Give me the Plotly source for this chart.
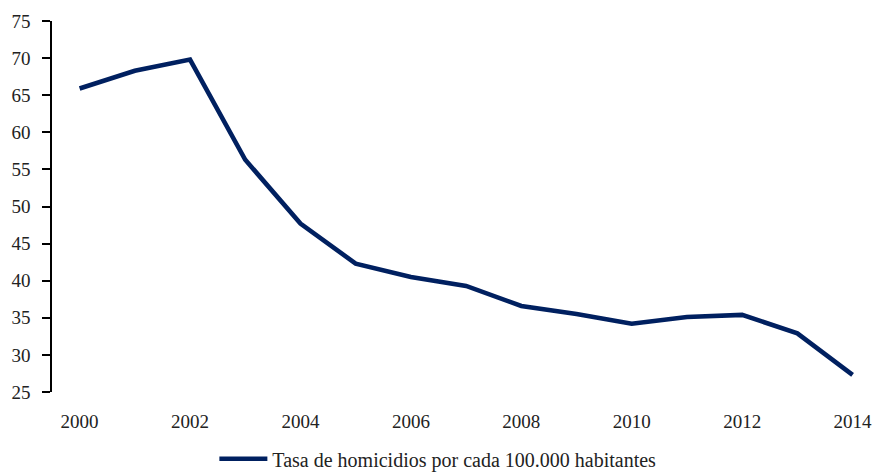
import plotly.graph_objects as go

# Homicide rate per 100,000 inhabitants, 2000-2014
years = [2000, 2001, 2002, 2003, 2004, 2005, 2006, 2007,
         2008, 2009, 2010, 2011, 2012, 2013, 2014]
rates = [65.9, 68.3, 69.8, 56.3, 47.7, 42.3, 40.5, 39.3,
         36.6, 35.5, 34.2, 35.1, 35.4, 32.9, 27.3]
series_name = "Tasa de homicidios por cada 100.000 habitantes"
label_years = years[::2]
y_ticks = list(range(25, 80, 5))

FONT = "Liberation Serif, DejaVu Serif, serif"
NAVY = "#002060"
TEXT = "#222222"

x_range = [years[0] - 0.5, years[-1] + 0.37]
# tick marks sit on category boundaries, every two years
boundaries = [y - 0.5 for y in label_years]

fig = go.Figure()
fig.add_trace(go.Scatter(
    x=years, y=rates, mode="lines", name=series_name,
    line=dict(color=NAVY, width=4.6),
    xaxis="x2",
))

fig.update_layout(
    width=873, height=472,
    margin=dict(l=52, r=0, t=21, b=80, autoexpand=False),
    paper_bgcolor="white", plot_bgcolor="white",
    font=dict(family=FONT, size=19, color=TEXT),
    showlegend=True,
    legend=dict(orientation="h", x=0.47, xanchor="center",
                y=-0.18, yanchor="middle",
                font=dict(family=FONT, size=20, color=TEXT),
                itemwidth=48),
    xaxis=dict(range=x_range, tickvals=boundaries, showticklabels=False,
               ticks="outside", ticklen=5, tickwidth=1.5, tickcolor="black",
               showline=True, linecolor="black", linewidth=1.5,
               showgrid=False, zeroline=False, automargin=False),
    xaxis2=dict(range=x_range, overlaying="x", side="bottom",
                tickvals=label_years, ticktext=[str(v) for v in label_years],
                ticks="outside", ticklen=12, tickcolor="rgba(0,0,0,0)",
                showline=False, showgrid=False, zeroline=False,
                automargin=False,
                tickfont=dict(family=FONT, size=19, color=TEXT)),
    yaxis=dict(range=[25, 75], tickvals=y_ticks,
               ticks="outside", ticklen=8, tickwidth=1.5, tickcolor="black",
               ticklabelstandoff=8, automargin=False,
               showline=True, linecolor="black", linewidth=1.5,
               showgrid=False, zeroline=False,
               tickfont=dict(family=FONT, size=19, color=TEXT)),
)

fig.write_html("out.html")
